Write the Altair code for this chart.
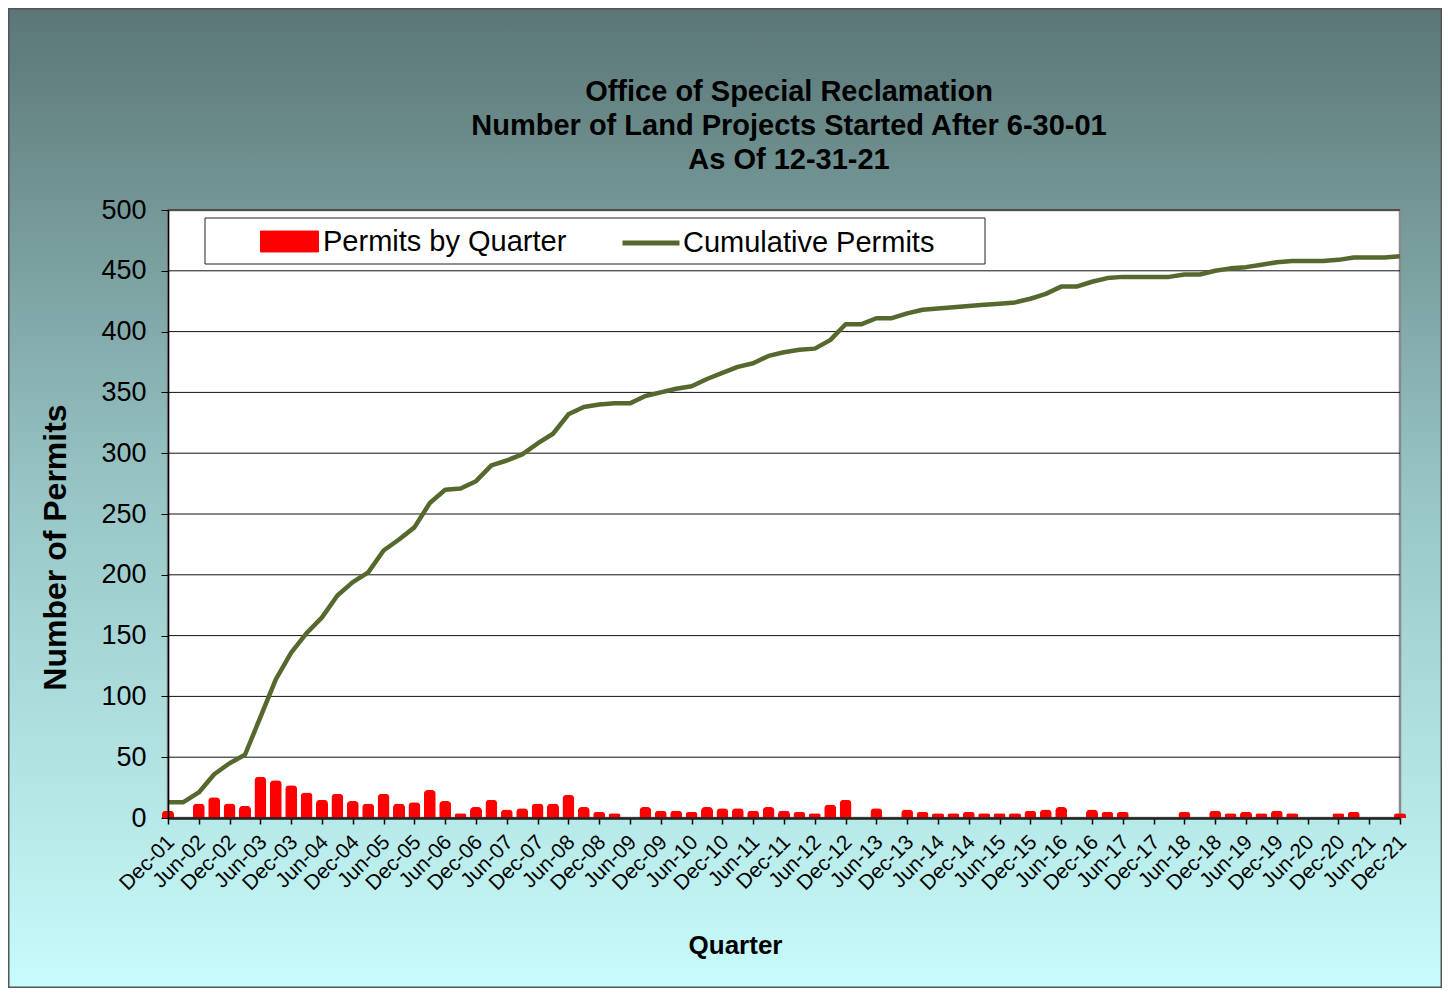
import altair as alt
import pandas as pd

# ---------------- data ----------------
months = ["Mar", "Jun", "Sep", "Dec"]
quarters = ["Dec-01"] + [f"{m}-{y:02d}" for y in range(2, 22) for m in months]
tick_labels = quarters[::2]

permits = [
    6,
    0, 12, 17, 12,    # 2002
    10, 34, 31, 27,   # 2003
    21, 15, 20, 14,   # 2004
    12, 20, 12, 13,   # 2005
    23, 14, 4, 9,     # 2006
    15, 7, 8, 12,     # 2007
    12, 19, 9, 5,     # 2008
    4, 0, 9, 6,       # 2009
    6, 5, 9, 8,       # 2010
    8, 6, 9, 6,       # 2011
    5, 4, 11, 15,     # 2012
    0, 8, 0, 7,       # 2013
    5, 4, 4, 5,       # 2014
    4, 4, 4, 6,       # 2015
    7, 9, 0, 7,       # 2016
    5, 5, 0, 0,       # 2017
    0, 5, 0, 6,       # 2018
    4, 5, 4, 6,       # 2019
    4, 0, 0, 4,       # 2020
    5, 0, 0, 4,       # 2021
]

cumulative = [
    13,
    13, 21, 36, 45,        # 2002
    52, 83, 114, 136,      # 2003
    152, 165, 183, 194,    # 2004
    202, 220, 229, 239,    # 2005
    259, 270, 271, 277,    # 2006
    290, 294, 299, 308,    # 2007
    316, 332, 338, 340,    # 2008
    341, 341, 347, 350,    # 2009
    353, 355, 361, 366,    # 2010
    371, 374, 380, 383,    # 2011
    385, 386, 393, 406,    # 2012
    406, 411, 411, 415,    # 2013
    418, 419, 420, 421,    # 2014
    422, 423, 424, 427,    # 2015
    431, 437, 437, 441,    # 2016
    444, 445, 445, 445,    # 2017
    445, 447, 447, 450,    # 2018
    452, 453, 455, 457,    # 2019
    458, 458, 458, 459,    # 2020
    461, 461, 461, 462,    # 2021
]

y_ticks = [0, 50, 100, 150, 200, 250, 300, 350, 400, 450, 500]
grid_values = y_ticks[1:]

title_lines = [
    "Office of Special Reclamation",
    "Number of Land Projects Started After 6-30-01",
    "As Of 12-31-21",
]

# ---------------- layout ----------------
W, H = 1232, 608
PAD_L, PAD_T, PAD_R, PAD_B = 160, 202, 42, 170
FONT = "Liberation Sans"

df = pd.DataFrame({"quarter": quarters, "permits": permits, "cumulative": cumulative})
df["bar_series"] = "Permits by Quarter"
df["line_series"] = "Cumulative Permits"

y_scale = alt.Scale(domain=[0, 500], nice=False, zero=True)
y_axis = alt.Axis(
    values=y_ticks, grid=False, zindex=1,
    labelFont=FONT, labelFontSize=27, labelColor="black", labelPadding=15,
    tickSize=7, tickColor="black", tickWidth=1,
    domainColor="black", domainWidth=1.5,
    title="Number of Permits", titleFont=FONT, titleFontSize=32, titleFontWeight="bold",
    titleColor="black", titleAngle=270, titleX=-113, titleY=337,
    titleAlign="center", titleBaseline="middle",
)
x_scale = alt.Scale(type="point", padding=0)
x_axis = alt.Axis(
    values=tick_labels, labelAngle=315, zindex=1,
    labelFont=FONT, labelFontSize=21, labelColor="black", labelPadding=7,
    labelOffset=-5, labelAlign="right", labelBaseline="top",
    tickSize=6, tickColor="black", tickWidth=1.5,
    domainColor="#222222", domainWidth=2.5,
    title="Quarter", titleFont=FONT, titleFontSize=26, titleFontWeight="bold",
    titleColor="black", titleX=567, titleY=127, titleAlign="center", titleBaseline="middle",
)
X = alt.X("quarter:N", sort=quarters, scale=x_scale, axis=x_axis)

dummy = pd.DataFrame({"a": [0]})

# chart background (gradient)
background = alt.Chart(dummy).mark_rect(
    color={
        "gradient": "linear", "x1": 0, "y1": 0, "x2": 0, "y2": 1,
        "stops": [
            {"offset": 0, "color": "#5b7676"},
            {"offset": 0.5, "color": "#98c6c6"},
            {"offset": 1, "color": "#c8fbfb"},
        ],
    },
    stroke="#555555", strokeWidth=1.5,
).encode(
    x=alt.value(-PAD_L + 0.75), x2=alt.value(W + PAD_R - 0.75),
    y=alt.value(-PAD_T + 0.75), y2=alt.value(H + PAD_B - 0.75),
)

# plot area
plot_area = alt.Chart(dummy).mark_rect(
    fill="white", stroke="#8a8a8a", strokeWidth=2.5
).encode(x=alt.value(0), x2=alt.value(W), y=alt.value(0), y2=alt.value(H))

grid = alt.Chart(pd.DataFrame({"v": grid_values})).mark_rule(
    color="#111111", strokeWidth=1
).encode(y=alt.Y("v:Q", scale=y_scale, axis=y_axis))

legend_box = alt.Chart(dummy).mark_rect(
    fill="white", stroke="#222222", strokeWidth=1
).encode(x=alt.value(37), x2=alt.value(817), y=alt.value(8), y2=alt.value(54))

bars = alt.Chart(df).mark_bar(
    width=12, cornerRadiusTopLeft=4, cornerRadiusTopRight=4
).encode(
    x=X,
    y=alt.Y("permits:Q", scale=y_scale, axis=y_axis),
    fill=alt.Fill(
        "bar_series:N",
        scale=alt.Scale(domain=["Permits by Quarter"], range=["#ff0000"]),
        legend=alt.Legend(
            title=None, orient="none", legendX=92, legendY=2, padding=0, zindex=1,
            symbolType="M-1,-0.36H1V0.36H-1Z", symbolSize=3364,
            symbolStrokeColor="#ff0000", symbolStrokeWidth=1,
            labelFont=FONT, labelFontSize=29, labelColor="black", labelOffset=4,
            labelLimit=600,
        ),
    ),
)

line = alt.Chart(df).mark_line(strokeWidth=4.5, strokeJoin="round").encode(
    x=X,
    y=alt.Y("cumulative:Q", scale=y_scale, axis=y_axis),
    stroke=alt.Stroke(
        "line_series:N",
        scale=alt.Scale(domain=["Cumulative Permits"], range=["#55682d"]),
        legend=alt.Legend(
            title=None, orient="none", legendX=452, legendY=2, padding=0, zindex=1,
            symbolType="stroke", symbolSize=3249, symbolStrokeWidth=5,
            labelFont=FONT, labelFontSize=29, labelColor="black", labelOffset=1,
            labelLimit=600,
        ),
    ),
)

chart = alt.layer(background, plot_area, grid, legend_box, bars, line).properties(
    width=W, height=H,
    title=alt.TitleParams(
        text=title_lines, font=FONT, fontSize=29, fontWeight="bold", color="black",
        lineHeight=34, anchor="middle", frame="group", offset=0, dx=5, dy=196,
        baseline="bottom", zindex=1,
    ),
    autosize=alt.AutoSizeParams(type="none"),
    padding={"left": PAD_L, "top": PAD_T, "right": PAD_R, "bottom": PAD_B},
).configure_view(stroke=None).configure(background="white")

chart.save("out.html", embed_options={"renderer": "svg", "actions": False})
